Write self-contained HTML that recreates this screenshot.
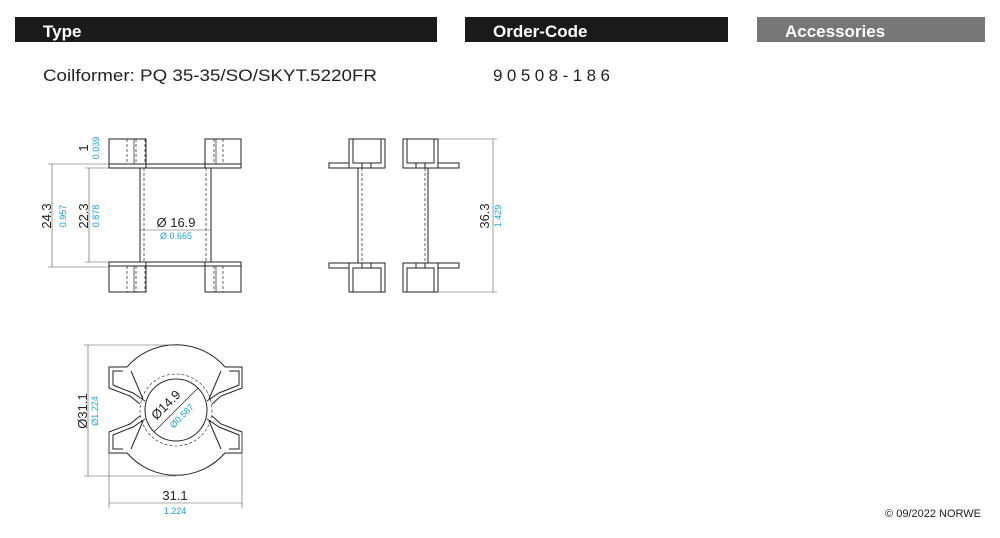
<!DOCTYPE html>
<html><head><meta charset="utf-8"><style>
body{margin:0;width:1000px;height:538px;background:#fff;overflow:hidden;font-family:"Liberation Sans",Arial,sans-serif}
svg{position:absolute;left:0;top:0}
</style></head><body>
<svg width="1000" height="538" viewBox="0 0 1000 538" font-family="Liberation Sans, Arial, sans-serif">
<rect x="15" y="17" width="422" height="25" fill="#1a1a1a"/>
<rect x="465" y="17" width="263" height="25" fill="#1a1a1a"/>
<rect x="757" y="17" width="228" height="25" fill="#777"/>
<text x="43" y="37" fill="#fff" font-size="17" font-weight="bold">Type</text>
<text x="493" y="37" fill="#fff" font-size="17" font-weight="bold">Order-Code</text>
<text x="785" y="37" fill="#fff" font-size="17" font-weight="bold">Accessories</text>
<text x="43" y="81" font-size="17" fill="#222" textLength="334" lengthAdjust="spacingAndGlyphs">Coilformer:  PQ 35-35/SO/SKYT.5220FR</text>
<text x="493" y="81" font-size="17" fill="#222" textLength="117" lengthAdjust="spacing">90508-186</text>
<text x="981" y="517" font-size="11" fill="#222" text-anchor="end">© 09/2022 NORWE</text>

<g stroke="#222" stroke-width="1" fill="none">
<rect x="109" y="139" width="37" height="29"/><rect x="205" y="139" width="36" height="29"/>
<rect x="109" y="164" width="132" height="4"/>
<rect x="109" y="262" width="37" height="30"/><rect x="205" y="262" width="36" height="30"/>
<rect x="109" y="262" width="132" height="4"/>
<line x1="140" y1="168" x2="140" y2="262"/><line x1="211" y1="168" x2="211" y2="262"/>
<g stroke-dasharray="3,2" stroke-width="0.7">
<line x1="127" y1="139" x2="127" y2="164"/><line x1="136" y1="139" x2="136" y2="164"/><line x1="145" y1="139" x2="145" y2="164"/>
<line x1="205" y1="139" x2="205" y2="164"/><line x1="214" y1="139" x2="214" y2="164"/><line x1="223" y1="139" x2="223" y2="164"/>
<line x1="127" y1="266" x2="127" y2="292"/><line x1="136" y1="266" x2="136" y2="292"/><line x1="145" y1="266" x2="145" y2="292"/>
<line x1="205" y1="266" x2="205" y2="292"/><line x1="214" y1="266" x2="214" y2="292"/><line x1="223" y1="266" x2="223" y2="292"/>
<line x1="144" y1="168" x2="144" y2="262"/><line x1="206" y1="168" x2="206" y2="262"/>
</g>
<line x1="134" y1="139" x2="134" y2="164" stroke-width="0.7"/><line x1="216" y1="139" x2="216" y2="164" stroke-width="0.7"/>
<line x1="134" y1="266" x2="134" y2="292" stroke-width="0.7"/><line x1="216" y1="266" x2="216" y2="292" stroke-width="0.7"/>
<g stroke-width="0.6" stroke="#555">
<line x1="52" y1="164" x2="52" y2="267"/><line x1="48" y1="164" x2="109" y2="164"/><line x1="48" y1="267" x2="109" y2="267"/>
<line x1="89" y1="168" x2="89" y2="262"/><line x1="85" y1="168" x2="109" y2="168"/><line x1="85" y1="262" x2="109" y2="262"/>
<line x1="140" y1="230" x2="211" y2="230"/>
</g>
<path d="M349 139 H385 V168 H349 Z M353 139 V163 H381 V139 M403 139 H438 V168 H403 Z M407 139 V163 H434 V139"/>
<path d="M329 163 H349 V168 H329 Z M438 163 H459 V168 H438 Z"/>
<path d="M349 292 H385 V263 H349 Z M353 292 V268 H381 V292 M403 292 H438 V263 H403 Z M407 292 V268 H434 V292"/>
<path d="M329 268 H349 V263 H329 Z M438 268 H459 V263 H438 Z"/>
<line x1="358" y1="168" x2="358" y2="263"/><line x1="428" y1="168" x2="428" y2="263"/>
<line x1="362" y1="163" x2="362" y2="168"/><line x1="371" y1="163" x2="371" y2="168"/>
<line x1="416" y1="163" x2="416" y2="168"/><line x1="425" y1="163" x2="425" y2="168"/>
<line x1="362" y1="263" x2="362" y2="268"/><line x1="371" y1="263" x2="371" y2="268"/>
<line x1="416" y1="263" x2="416" y2="268"/><line x1="425" y1="263" x2="425" y2="268"/>
<g stroke-dasharray="3,2" stroke-width="0.7"><line x1="362" y1="168" x2="362" y2="263"/><line x1="425" y1="168" x2="425" y2="263"/></g>
<g stroke-width="0.6" stroke="#555">
<line x1="493" y1="139" x2="493" y2="292"/><line x1="438" y1="139" x2="497" y2="139"/><line x1="438" y1="292" x2="497" y2="292"/>
</g>
<path d="M127 367 A65 65 0 0 1 225 367"/>
<path d="M127 453 A65 65 0 0 0 225 453"/>
<path d="M127 367 H109 V388 L130 396 L140 404"/>
<path d="M225 367 H242 V388 L221 396 L212 404"/>
<path d="M127 453 H109 V432 L130 424 L140 416"/>
<path d="M225 453 H242 V432 L221 424 L212 416"/>
<path d="M123 371 H113 V385 L133 393 L145 401 M131 371 L143 399"/>
<path d="M229 371 H239 V385 L219 393 L207 401 M221 371 L209 399"/>
<path d="M123 449 H113 V435 L133 427 L145 419 M131 449 L143 421"/>
<path d="M229 449 H239 V435 L219 427 L207 419 M221 449 L209 421"/>
<circle cx="176" cy="410" r="31"/>
<circle cx="176" cy="410" r="36" stroke-dasharray="3,2" stroke-width="0.6"/>
<line x1="154" y1="432" x2="198" y2="388" stroke-width="0.7"/>
<g stroke-width="0.6" stroke="#555">
<line x1="88" y1="345" x2="88" y2="476"/><line x1="84" y1="345" x2="176" y2="345"/><line x1="84" y1="476" x2="176" y2="476"/>
<line x1="109" y1="503" x2="242" y2="503"/><line x1="109" y1="432" x2="109" y2="508"/><line x1="242" y1="432" x2="242" y2="508"/>
</g>
</g>

<g font-size="13" fill="#222">
<text transform="translate(88,148) rotate(-90)" text-anchor="middle">1</text>
<text transform="translate(51,216) rotate(-90)" text-anchor="middle">24.3</text>
<text transform="translate(88,216) rotate(-90)" text-anchor="middle">22.3</text>
<text x="176" y="227" text-anchor="middle">Ø 16.9</text>
<text transform="translate(489,216) rotate(-90)" text-anchor="middle">36.3</text>
<text transform="translate(87,411) rotate(-90)" text-anchor="middle">Ø31.1</text>
<text transform="translate(169,408) rotate(-45)" text-anchor="middle">Ø14.9</text>
<text x="175" y="500" text-anchor="middle">31.1</text>
</g>
<g font-size="9" fill="#1a9fd8">
<text transform="translate(99,148) rotate(-90)" text-anchor="middle">0.039</text>
<text transform="translate(66,216) rotate(-90)" text-anchor="middle">0.957</text>
<text transform="translate(99,216) rotate(-90)" text-anchor="middle">0.878</text>
<text x="176" y="239" text-anchor="middle">Ø 0.665</text>
<text transform="translate(501,216) rotate(-90)" text-anchor="middle">1.429</text>
<text transform="translate(98,411) rotate(-90)" text-anchor="middle">Ø1.224</text>
<text transform="translate(184,418) rotate(-45)" text-anchor="middle">Ø0.587</text>
<text x="175" y="514" text-anchor="middle">1.224</text>
</g>
</svg>
</body></html>
